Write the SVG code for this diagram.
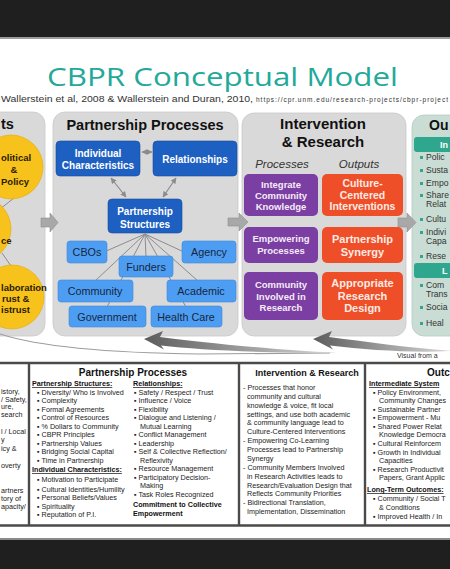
<svg xmlns="http://www.w3.org/2000/svg" width="450" height="569" viewBox="0 0 450 569">
<defs>
<style>
.f{font-family:"Liberation Sans",Arial,sans-serif}
.panel{fill:#d9d9d9;stroke:#c9c9c9;stroke-width:0.8}
.ptitle{font-family:"Liberation Sans",Arial,sans-serif;font-weight:bold;font-size:14.5px;fill:#111;text-anchor:middle}
.dk{fill:#1e5fc2;stroke:#174f9e;stroke-width:0.6}
.lt{fill:#4d9ef2;stroke:#3d88d8;stroke-width:0.6}
.dkt{font-family:"Liberation Sans",Arial,sans-serif;font-weight:bold;font-size:10px;fill:#fff;text-anchor:middle}
.ltt{font-family:"Liberation Sans",Arial,sans-serif;font-size:10.8px;fill:#17263f;text-anchor:middle}
.pu{fill:#7b3ea2}
.or{fill:#ee4f28}
.put{font-family:"Liberation Sans",Arial,sans-serif;font-weight:bold;font-size:9.5px;fill:#f4ecf8;text-anchor:middle}
.ort{font-family:"Liberation Sans",Arial,sans-serif;font-weight:bold;font-size:11px;fill:#fdebe4;text-anchor:middle}
.circ{fill:#f8c21d;stroke:#e3aa08;stroke-width:0.6}
.ct{font-family:"Liberation Sans",Arial,sans-serif;font-weight:bold;font-size:9.5px;fill:#2a2000}
.barrow{fill:#a8a8a8;stroke:#8e8e8e;stroke-width:0.6}
.conn{stroke:#8c8c8c;stroke-width:1;fill:none}
.dbl{stroke:#8c8c8c;stroke-width:1.2;fill:none;marker-start:url(#ah);marker-end:url(#ah)}
.tb{font-family:"Liberation Sans",Arial,sans-serif;font-size:7.2px;fill:#222}
.tbb{font-family:"Liberation Sans",Arial,sans-serif;font-weight:bold;font-size:7.2px;fill:#111}
.th{font-family:"Liberation Sans",Arial,sans-serif;font-weight:bold;font-size:10px;fill:#111}
.ot{font-family:"Liberation Sans",Arial,sans-serif;font-size:8.6px;fill:#333}
.bar{fill:#2fa78e}
.bart{font-family:"Liberation Sans",Arial,sans-serif;font-weight:bold;font-size:9px;fill:#fff}
.grid{stroke:#4a4a4a;stroke-width:2.4}
.it{font-family:"Liberation Sans",Arial,sans-serif;font-style:italic;font-size:11.5px;fill:#333;text-anchor:middle}
</style>
<marker id="ah" viewBox="0 0 10 10" refX="9" refY="5" markerWidth="5" markerHeight="5" orient="auto-start-reverse"><path d="M0,0 L10,5 L0,10 z" fill="#8c8c8c"/></marker>
<linearGradient id="sw" x1="0" x2="1" y1="0" y2="0"><stop offset="0" stop-color="#5c5c5c"/><stop offset="1" stop-color="#d8d8d8"/></linearGradient>
</defs>

<rect x="0" y="0" width="450" height="569" fill="#ffffff"/>
<rect x="0" y="0" width="450" height="37" fill="#1f1f1f"/>
<rect x="0" y="37" width="450" height="2" fill="#9c9c9c"/>
<rect x="0" y="538" width="450" height="3" fill="#8a8a8a"/>
<rect x="0" y="540" width="450" height="29" fill="#1f1f1f"/>

<g id="title">
<text x="47" y="86" font-family="'Open Sans','Liberation Sans',sans-serif" font-size="26" fill="#22a99a" textLength="351" lengthAdjust="spacingAndGlyphs">CBPR Conceptual Model</text>
<text x="1" y="102" class="f" font-size="9" fill="#333" textLength="252" lengthAdjust="spacingAndGlyphs">Wallerstein et al, 2008 &amp; Wallerstein and Duran, 2010,</text>
<text x="256" y="102" class="f" font-size="6.5" fill="#333" textLength="192" lengthAdjust="spacing">https://cpr.unm.edu/research-projects/cbpr-project</text>
</g>

<g id="contexts">
<rect x="-30" y="112" width="75" height="224" rx="12" class="panel"/>
<text x="1" y="129" class="ptitle" style="text-anchor:start">ts</text>
<line x1="0" y1="209" x2="14" y2="198" class="conn"/>
<line x1="2" y1="253" x2="11" y2="266" class="conn"/>
<circle cx="11" cy="167" r="32" class="circ"/>
<text class="ct"><tspan x="1" y="161">olitical</tspan><tspan x="14" y="173" text-anchor="middle">&amp;</tspan><tspan x="1" y="185">Policy</tspan></text>
<circle cx="-22" cy="229" r="33" class="circ"/>
<text class="ct"><tspan x="1" y="244">ce</tspan></text>
<circle cx="12" cy="297" r="32" class="circ"/>
<text class="ct"><tspan x="1" y="291">laboration</tspan><tspan x="2" y="302">rust &amp;</tspan><tspan x="1" y="313">istrust</tspan></text>
</g>

<g id="partnership-panel">
<rect x="53" y="112" width="185" height="224" rx="12" class="panel"/>
<text x="145" y="130" class="ptitle">Partnership Processes</text>
</g>

<g id="connectors">
<line x1="142" y1="152" x2="152" y2="152" class="dbl"/>
<line x1="111" y1="178" x2="126" y2="197" class="dbl"/>
<line x1="176" y1="178" x2="163" y2="197" class="dbl"/>
<line x1="145" y1="234" x2="104" y2="252" class="conn"/>
<line x1="145" y1="234" x2="95" y2="281" class="conn"/>
<line x1="145" y1="234" x2="107" y2="307" class="conn"/>
<line x1="145" y1="234" x2="146" y2="257" class="conn"/>
<line x1="145" y1="234" x2="186" y2="307" class="conn"/>
<line x1="145" y1="234" x2="184" y2="252" class="conn"/>
<line x1="145" y1="234" x2="198" y2="281" class="conn"/>
</g>

<g id="individual-characteristics">
<rect x="56" y="141" width="84" height="35" rx="4" class="dk"/>
<text class="dkt"><tspan x="98" y="156.5">Individual</tspan><tspan x="98" y="168.5">Characteristics</tspan></text>
</g>
<g id="relationships">
<rect x="153" y="141" width="84" height="35" rx="4" class="dk"/>
<text x="195" y="162.5" class="dkt">Relationships</text>
</g>
<g id="partnership-structures">
<rect x="108" y="199" width="74" height="34" rx="4" class="dk"/>
<text class="dkt"><tspan x="145" y="215">Partnership</tspan><tspan x="145" y="227.5">Structures</tspan></text>
</g>
<g id="cbos"><rect x="67" y="241" width="40" height="22" rx="3" class="lt"/><text x="87" y="256" class="ltt">CBOs</text></g>
<g id="agency"><rect x="182" y="241" width="54" height="22" rx="3" class="lt"/><text x="209" y="256" class="ltt">Agency</text></g>
<g id="funders"><rect x="119" y="256" width="54" height="21" rx="3" class="lt"/><text x="146" y="270.5" class="ltt">Funders</text></g>
<g id="community"><rect x="58" y="280" width="75" height="22" rx="3" class="lt"/><text x="95" y="295" class="ltt">Community</text></g>
<g id="academic"><rect x="167" y="280" width="69" height="22" rx="3" class="lt"/><text x="201" y="295" class="ltt">Academic</text></g>
<g id="government"><rect x="69" y="306" width="77" height="21" rx="3" class="lt"/><text x="107" y="320.5" class="ltt">Government</text></g>
<g id="health-care"><rect x="151" y="306" width="71" height="21" rx="3" class="lt"/><text x="186" y="320.5" class="ltt">Health Care</text></g>

<g id="intervention-panel">
<rect x="242" y="113" width="164" height="223" rx="12" class="panel"/>
<text x="323" y="129" class="ptitle" style="font-size:15px">Intervention</text>
<text x="323" y="147" class="ptitle" style="font-size:15px">&amp; Research</text>
<text x="282" y="168" class="it">Processes</text>
<text x="359" y="168" class="it">Outputs</text>
</g>
<g id="integrate"><rect x="244" y="174" width="74" height="42" rx="5" class="pu"/><text class="put"><tspan x="281" y="188">Integrate</tspan><tspan x="281" y="199">Community</tspan><tspan x="281" y="210">Knowledge</tspan></text></g>
<g id="empowering"><rect x="244" y="227" width="74" height="36" rx="5" class="pu"/><text class="put"><tspan x="281" y="242">Empowering</tspan><tspan x="281" y="254">Processes</tspan></text></g>
<g id="community-involved"><rect x="244" y="272" width="74" height="48" rx="5" class="pu"/><text class="put"><tspan x="281" y="288">Community</tspan><tspan x="281" y="299.5">Involved in</tspan><tspan x="281" y="311">Research</tspan></text></g>
<g id="culture-centered"><rect x="322" y="174" width="81" height="42" rx="5" class="or"/><text class="ort" style="font-size:10.5px"><tspan x="362.5" y="187">Culture-</tspan><tspan x="362.5" y="198.5">Centered</tspan><tspan x="362.5" y="210">Interventions</tspan></text></g>
<g id="partnership-synergy"><rect x="322" y="227" width="81" height="36" rx="5" class="or"/><text class="ort"><tspan x="362.5" y="243">Partnership</tspan><tspan x="362.5" y="256">Synergy</tspan></text></g>
<g id="appropriate-design"><rect x="322" y="272" width="81" height="48" rx="5" class="or"/><text class="ort"><tspan x="362.5" y="287">Appropriate</tspan><tspan x="362.5" y="299.5">Research</tspan><tspan x="362.5" y="312">Design</tspan></text></g>

<g id="outcomes">
<rect x="412" y="115" width="80" height="221" rx="12" fill="#c9ddd5" stroke="#b5cbc3" stroke-width="0.8"/>
<text x="429" y="130" class="ptitle" style="text-anchor:start;font-size:14px">Ou</text>
<rect x="414" y="137" width="80" height="15" rx="3" class="bar"/>
<text x="440" y="148" class="bart">In</text>
<g fill="#2fa78e"><rect x="420" y="156" width="3" height="3"/><rect x="420" y="169" width="3" height="3"/><rect x="420" y="182" width="3" height="3"/><rect x="420" y="194" width="3" height="3"/><rect x="420" y="218" width="3" height="3"/><rect x="420" y="231" width="3" height="3"/><rect x="420" y="255" width="3" height="3"/><rect x="420" y="284" width="3" height="3"/><rect x="420" y="306" width="3" height="3"/><rect x="420" y="322" width="3" height="3"/></g>
<text class="ot"><tspan x="426" y="160">Polic</tspan><tspan x="426" y="173">Susta</tspan><tspan x="426" y="186">Empo</tspan><tspan x="426" y="198">Share</tspan><tspan x="426" y="207">Relat</tspan><tspan x="426" y="222">Cultu</tspan><tspan x="426" y="235">Indivi</tspan><tspan x="426" y="244">Capa</tspan><tspan x="426" y="259">Rese</tspan></text>
<rect x="414" y="263" width="80" height="15" rx="3" class="bar"/>
<text x="442" y="274" class="bart">L</text>
<text class="ot"><tspan x="426" y="288">Com</tspan><tspan x="426" y="297">Trans</tspan><tspan x="426" y="310">Socia</tspan><tspan x="426" y="326">Heal</tspan></text>
</g>

<g id="block-arrows">
<path d="M41,218 L50,218 L50,213 L58,222.5 L50,232 L50,227 L41,227 Z" class="barrow"/>
<path d="M228,218 L239,218 L239,213 L248,222 L239,231 L239,226 L228,226 Z" class="barrow"/>
<path d="M398,218 L407,218 L407,213 L416,222.5 L407,232 L407,227 L398,227 Z" class="barrow"/>
</g>

<g id="feedback-arrows">
<path d="M0,334 C40,347 110,353 200,354 L330,353" fill="none" stroke="#9c9c9c" stroke-width="1.1"/>
<path d="M144,339 L163,331 L160,337 C200,342 262,349 338,353 C262,353 200,350 161,345.5 L164,349.5 Z" fill="url(#sw)"/>
<path d="M313,339 L332,331 L329,337 C369,342 410,348 452,351 C410,353 369,350 330,345.5 L333,349.5 Z" fill="url(#sw)"/>
<text x="397" y="358" class="f" font-size="7" fill="#333">Visual from a</text>
</g>

<g id="table">
<line x1="0" y1="363" x2="450" y2="363" class="grid"/>
<line x1="0" y1="525.5" x2="450" y2="525.5" class="grid"/>
<line x1="29" y1="363" x2="29" y2="525" class="grid"/>
<line x1="239" y1="363" x2="239" y2="525" class="grid"/>
<line x1="365" y1="363" x2="365" y2="525" class="grid"/>

<text class="tb"><tspan x="1" y="394">istory,</tspan><tspan x="1" y="401.5">/ Safety,</tspan><tspan x="1" y="409">ure,</tspan><tspan x="1" y="416.5">search</tspan><tspan x="1" y="434">l / Local</tspan><tspan x="1" y="442">y</tspan><tspan x="1" y="451">icy &amp;</tspan><tspan x="1" y="468">overty</tspan><tspan x="1" y="493">artners</tspan><tspan x="1" y="501">tory of</tspan><tspan x="1" y="509">apacity/</tspan></text>

<text x="133" y="376" class="th" text-anchor="middle">Partnership Processes</text>
<text x="32" y="386" class="tbb" text-decoration="underline">Partnership Structures:</text>
<text x="133" y="386" class="tbb" text-decoration="underline">Relationships:</text>
<text class="tb"><tspan x="37" y="394.5">▪ Diversity/ Who is Involved</tspan><tspan x="37" y="403">▪ Complexity</tspan><tspan x="37" y="411.5">▪ Formal Agreements</tspan><tspan x="37" y="420">▪ Control of Resources</tspan><tspan x="37" y="428.5">▪ % Dollars to Community</tspan><tspan x="37" y="437">▪ CBPR Principles</tspan><tspan x="37" y="445.5">▪ Partnership Values</tspan><tspan x="37" y="454">▪ Bridging Social Capital</tspan><tspan x="37" y="462.5">▪ Time in Partnership</tspan></text>
<text x="32" y="472" class="tbb" text-decoration="underline">Individual Characteristics:</text>
<text class="tb"><tspan x="37" y="482">▪ Motivation to Participate</tspan><tspan x="37" y="491.5">▪ Cultural Identities/Humility</tspan><tspan x="37" y="500">▪ Personal Beliefs/Values</tspan><tspan x="37" y="508.5">▪ Spirituality</tspan><tspan x="37" y="517">▪ Reputation of P.I.</tspan></text>
<text class="tb"><tspan x="134" y="394.5">▪ Safety / Respect / Trust</tspan><tspan x="134" y="403">▪ Influence / Voice</tspan><tspan x="134" y="411.5">▪ Flexibility</tspan><tspan x="134" y="420">▪ Dialogue and Listening /</tspan><tspan x="140" y="428.5">Mutual Learning</tspan><tspan x="134" y="437">▪ Conflict Management</tspan><tspan x="134" y="445.5">▪ Leadership</tspan><tspan x="134" y="454">▪ Self &amp; Collective Reflection/</tspan><tspan x="140" y="462.5">Reflexivity</tspan><tspan x="134" y="471">▪ Resource Management</tspan><tspan x="134" y="479.5">▪ Participatory Decision-</tspan><tspan x="140" y="488">Making</tspan><tspan x="134" y="496.5">▪ Task Roles Recognized</tspan></text>
<text class="tbb"><tspan x="133" y="507">Commitment to Collective</tspan><tspan x="133" y="516">Empowerment</tspan></text>

<text x="307" y="376" class="th" text-anchor="middle" style="font-size:9px">Intervention &amp; Research</text>
<text class="tb"><tspan x="243" y="390">- Processes that honor</tspan><tspan x="247" y="398.9">community and cultural</tspan><tspan x="247" y="407.7">knowledge &amp; voice, fit local</tspan><tspan x="247" y="416.6">settings, and use both academic</tspan><tspan x="247" y="425.4">&amp; community language lead to</tspan><tspan x="247" y="434.3">Culture-Centered Interventions</tspan><tspan x="243" y="443.2">- Empowering Co-Learning</tspan><tspan x="247" y="452">Processes lead to Partnership</tspan><tspan x="247" y="460.9">Synergy</tspan><tspan x="243" y="469.7">- Community Members Involved</tspan><tspan x="247" y="478.6">in Research Activities leads to</tspan><tspan x="247" y="487.5">Research/Evaluation Design that</tspan><tspan x="247" y="496.3">Reflects Community Priorities</tspan><tspan x="243" y="505.2">- Bidirectional Translation,</tspan><tspan x="247" y="514">Implementation, Dissemination</tspan></text>

<text x="427" y="376" class="th">Outc</text>
<text x="369" y="386" class="tbb" text-decoration="underline">Intermediate System</text>
<text class="tb"><tspan x="373" y="394.5">▪ Policy Environment,</tspan><tspan x="379" y="403">Community Changes</tspan><tspan x="373" y="411.5">▪ Sustainable Partner</tspan><tspan x="373" y="420">▪ Empowerment - Mu</tspan><tspan x="373" y="428.5">▪ Shared Power Relat</tspan><tspan x="379" y="437">Knowledge Democra</tspan><tspan x="373" y="446">▪ Cultural Reinforcem</tspan><tspan x="373" y="454.5">▪ Growth in Individual</tspan><tspan x="379" y="463">Capacities</tspan><tspan x="373" y="471.5">▪ Research Productivit</tspan><tspan x="379" y="480">Papers, Grant Applic</tspan></text>
<text x="367" y="492" class="tbb" text-decoration="underline">Long-Term Outcomes:</text>
<text class="tb"><tspan x="373" y="501">▪ Community / Social T</tspan><tspan x="379" y="509.5">&amp; Conditions</tspan><tspan x="373" y="519">▪ Improved Health / In</tspan></text>
</g>
</svg>
